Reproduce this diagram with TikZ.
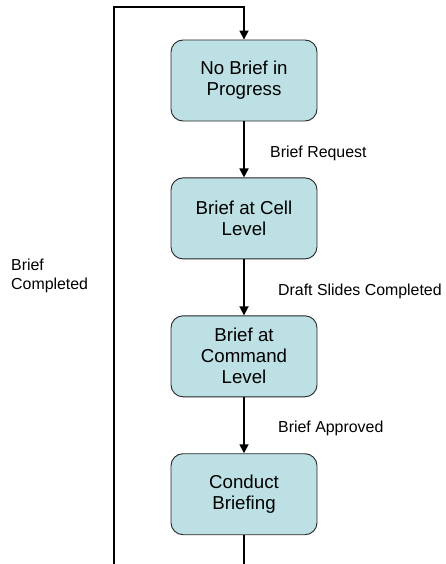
\documentclass[tikz,border=0pt]{standalone}
\usepackage{fontspec}
\setmainfont{Liberation Sans}
\usetikzlibrary{positioning,arrows.meta}
\definecolor{statefill}{RGB}{188,224,227}
\tikzset{
  statebox/.style={
    draw=black!85, line width=0.9pt, fill=statefill, rounded corners=12pt,
    minimum width=146pt, minimum height=81pt, align=center, inner sep=0pt,
    font=\fontsize{18.7}{21}\selectfont
  },
  translabel/.style={font=\fontsize{15.9}{19}\selectfont, align=left, inner sep=0pt},
  flow/.style={line width=1.7pt, -{Triangle[length=9pt,width=9pt]}},
}

\begin{document}
\begin{tikzpicture}[x=1pt,y=-1pt,node distance=56pt]
  \useasboundingbox (0,0) rectangle (446,564);

  % the four states, top to bottom
  \node[statebox] (nobrief) at (244,80.5) {No Brief in\\Progress};
  \node[statebox, below=of nobrief] (cell) {Brief at Cell\\Level};
  \node[statebox, below=of cell] (command) {Brief at\\Command\\Level};
  \node[statebox, below=of command] (briefing) {Conduct\\Briefing};

  % ends of the loop back to the top
  \coordinate (loopend) at (244,564);
  \coordinate (loopstart) at (114,564);
  \coordinate (looptop) at (114,7);

  % transitions
  \draw[flow] (nobrief) -- (cell);
  \draw[flow] (cell) -- (command);
  \draw[flow] (command) -- (briefing);
  \draw[line width=1.7pt] (briefing) -- (loopend);
  \draw[flow] (loopstart) -- (looptop) -| (nobrief.north);

  \node[translabel, anchor=west] (request) at (270,153) {Brief Request};
  \node[translabel, anchor=west] (draft) at (278,291) {Draft Slides Completed};
  \node[translabel, anchor=west] (approved) at (278,428) {Brief Approved};
  \node[translabel, anchor=west] (completed) at (11,276) {Brief\\Completed};
\end{tikzpicture}
\end{document}
